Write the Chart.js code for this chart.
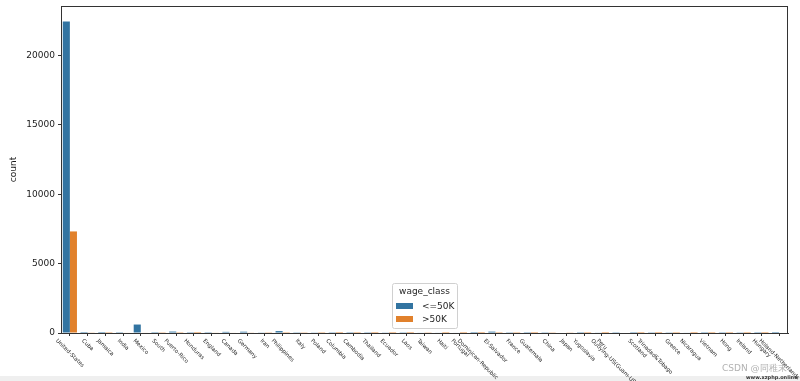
<!DOCTYPE html>
<html>
<head>
<meta charset="utf-8">
<script src="https://cdn.jsdelivr.net/npm/chart.js@4.4.1/dist/chart.umd.min.js"></script>
<style>
  html, body { margin: 0; padding: 0; background: #ffffff; }
  canvas { display: block; }
</style>
</head>
<body>
<canvas id="c" width="800" height="381"></canvas>
<script>
const countries = ["United-States","Cuba","Jamaica","India","Mexico","South","Puerto-Rico","Honduras","England","Canada","Germany","Iran","Philippines","Italy","Poland","Columbia","Cambodia","Thailand","Ecuador","Laos","Taiwan","Haiti","Portugal","Dominican-Republic","El-Salvador","France","Guatemala","China","Japan","Yugoslavia","Peru","Outlying-US(Guam-USVI-etc)","Scotland","Trinadad&Tobago","Greece","Nicaragua","Vietnam","Hong","Ireland","Hungary","Holand-Netherlands"];
const lowWage = [22436,70,71,60,610,64,102,12,60,82,93,25,137,54,48,57,12,15,24,16,31,40,33,68,97,17,61,55,38,10,29,14,9,17,21,32,62,14,19,10,1];
const highWage = [7317,25,10,40,33,16,12,1,30,39,44,18,61,19,12,2,7,3,4,2,20,4,4,2,9,12,3,20,24,6,2,0,3,2,8,2,5,6,5,3,0];
const seriesNames = ["<=50K", ">50K"];
const legendTitle = "wage_class";
const yTicks = [0, 5000, 10000, 15000, 20000];
const yMax = 23558;
const colors = ["#3274a1", "#e1812c"];

const FONT = "'DejaVu Sans', sans-serif";

const extras = {
  id: 'extras',
  beforeDraw(chart) {
    const ctx = chart.ctx;
    ctx.save();
    ctx.fillStyle = '#efefef';
    ctx.fillRect(0, chart.height - 5, chart.width, 5);
    ctx.restore();
  },
  afterDraw(chart) {
    const ctx = chart.ctx;
    const a = chart.chartArea;
    const xs = chart.scales.x;
    ctx.save();
    // frame
    ctx.strokeStyle = '#333333';
    ctx.lineWidth = 1;
    ctx.strokeRect(Math.round(a.left) + 0.5, Math.round(a.top) + 0.5, Math.round(a.right - a.left) - 1, Math.round(a.bottom - a.top));
    // rotated x labels
    const fs = 5.5;
    ctx.font = fs + 'px ' + FONT;
    ctx.fillStyle = '#262626';
    ctx.textAlign = 'center';
    ctx.textBaseline = 'middle';
    const yTop = a.bottom + 5;
    countries.forEach((lab, i) => {
      const x = xs.getPixelForValue(i);
      const w = ctx.measureText(lab).width;
      const cy = yTop + (w + fs) * Math.SQRT1_2 / 2;
      ctx.save();
      ctx.translate(x, cy);
      ctx.rotate(Math.PI / 4);
      ctx.fillText(lab, 0, 0);
      ctx.restore();
    });
    // legend
    const lx = 392, ly = 283, lw = 65, lh = 45;
    ctx.fillStyle = 'rgba(255,255,255,0.85)';
    ctx.strokeStyle = '#d0d0d0';
    ctx.lineWidth = 1;
    ctx.beginPath();
    ctx.roundRect(lx + 0.5, ly + 0.5, lw, lh, 2);
    ctx.fill();
    ctx.stroke();
    ctx.font = '9px ' + FONT;
    ctx.fillStyle = '#262626';
    ctx.textAlign = 'center';
    ctx.fillText(legendTitle, lx + lw / 2, ly + 9);
    ctx.textAlign = 'left';
    chart.data.datasets.forEach((ds, i) => {
      const ry = ly + 20 + i * 13;
      ctx.fillStyle = ds.backgroundColor;
      ctx.fillRect(lx + 4, ry, 17, 6);
      ctx.fillStyle = '#262626';
      ctx.fillText(ds.label, lx + 30, ry + 3.5);
    });
    // watermark
    ctx.font = '9px ' + FONT;
    ctx.fillStyle = 'rgba(170,170,170,0.9)';
    ctx.textAlign = 'left';
    ctx.fillText('CSDN @同稚末', 722, 369);
    ctx.font = 'bold 5px ' + FONT;
    ctx.fillStyle = '#333';
    ctx.fillText('www.xzphp.online', 746, 378);
    ctx.restore();
  }
};

new Chart(document.getElementById('c'), {
  type: 'bar',
  data: {
    labels: countries,
    datasets: [
      { label: seriesNames[0], data: lowWage, backgroundColor: colors[0], borderWidth: 0 },
      { label: seriesNames[1], data: highWage, backgroundColor: colors[1], borderWidth: 0 }
    ]
  },
  options: {
    responsive: false,
    animation: false,
    devicePixelRatio: 1,
    layout: { padding: { top: 6, right: 12, left: 8, bottom: 0 } },
    plugins: { legend: { display: false }, tooltip: { enabled: false } },
    datasets: { bar: { categoryPercentage: 0.8, barPercentage: 1.0 } },
    scales: {
      x: {
        offset: true,
        grid: { display: true, offset: false, drawOnChartArea: false, drawTicks: true, tickLength: 3, color: '#333333' },
        border: { display: true, color: '#333333', width: 1 },
        ticks: { display: false },
        afterFit(scale) { scale.height = 48; scale.paddingLeft = 0; scale.paddingRight = 0; }
      },
      y: {
        min: 0,
        max: yMax,
        afterBuildTicks(scale) { scale.ticks = yTicks.map(v => ({ value: v })); },
        grid: { display: true, drawOnChartArea: false, drawTicks: true, tickLength: 3, color: '#333333' },
        border: { display: true, color: '#333333', width: 1 },
        ticks: { font: { family: FONT, size: 9 }, color: '#1a1a1a', padding: 3, callback: v => String(v) },
        title: { display: true, text: 'count', font: { family: FONT, size: 9 }, color: '#1a1a1a', padding: { top: 0, bottom: 2 } },
        afterFit(scale) { scale.width = 53; scale.paddingTop = 0; scale.paddingBottom = 0; }
      }
    }
  },
  plugins: [extras]
});
</script>
</body>
</html>
